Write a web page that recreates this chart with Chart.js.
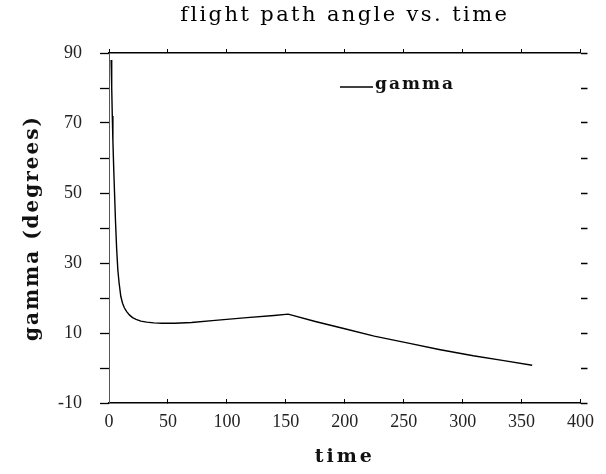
<!DOCTYPE html>
<html>
<head>
<meta charset="utf-8">
<script src="https://cdn.jsdelivr.net/npm/chart.js@4/dist/chart.umd.min.js"></script>
<style>
  html, body { margin: 0; padding: 0; background: #fff; }
  #wrap { width: 606px; height: 474px; position: relative; }
</style>
</head>
<body>
<div id="wrap"><canvas id="c" width="606" height="474"></canvas></div>
<script>
// ---- data ----
const chartTitle = 'flight path angle vs. time';
const xTitle = 'time';
const yTitle = 'gamma (degrees)';
const seriesName = 'gamma';
const time  = [1.8, 2.3, 2.8, 3.3, 4, 4.7, 5.5, 6.5, 7.5, 8.5, 10, 11.5, 13, 15, 17.5, 20, 23, 27, 32, 38, 45, 56, 70, 90, 117, 140, 152, 175, 200, 225, 254, 280, 309, 335, 359];
const gamma = [88, 80, 72, 65, 57, 50, 42, 34, 28, 24.5, 20.5, 18.5, 17.2, 16.1, 15.1, 14.4, 13.9, 13.4, 13.1, 12.9, 12.8, 12.8, 13.0, 13.6, 14.4, 15.0, 15.4, 13.3, 11.2, 9.1, 7.1, 5.3, 3.5, 2.1, 0.8];
const xTicks = [0, 50, 100, 150, 200, 250, 300, 350, 400];
const yTickLabels = [-10, 10, 30, 50, 70, 90];

const points = time.map((t, i) => ({ x: t, y: gamma[i] }));

function spaced(obj, method, spacing) {
  if (!obj || obj['__sp_' + method]) return;
  const orig = obj[method];
  obj[method] = function (...a) {
    const ctx = this.ctx;
    ctx.save();
    ctx.letterSpacing = spacing;
    const r = orig.apply(this, a);
    ctx.restore();
    return r;
  };
  obj['__sp_' + method] = true;
}

const spacingPlugin = {
  id: 'spacing',
  beforeDraw(chart) {
    spaced(chart.scales.x, 'drawTitle', '3px');
    spaced(chart.scales.x2, 'drawTitle', '2.4px');
    spaced(chart.scales.y, 'drawTitle', '2px');
  }
};

const legendPlugin = {
  id: 'inlineLegend',
  afterDraw(chart) {
    const ctx = chart.ctx;
    const ds = chart.data.datasets[0];
    const a = chart.chartArea;
    const x0 = a.left + 231, y0 = a.top + 34;
    ctx.save();
    ctx.strokeStyle = ds.borderColor;
    ctx.lineWidth = 1.5;
    ctx.beginPath();
    ctx.moveTo(x0, y0);
    ctx.lineTo(x0 + 33, y0);
    ctx.stroke();
    ctx.fillStyle = '#111';
    ctx.font = 'bold 17px "DejaVu Serif"';
    ctx.letterSpacing = '2px';
    ctx.textBaseline = 'middle';
    ctx.textAlign = 'left';
    ctx.fillText(ds.label, x0 + 35, y0 - 2);
    ctx.restore();
  }
};

new Chart(document.getElementById('c'), {
  type: 'line',
  data: {
    datasets: [{
      label: seriesName,
      data: points,
      borderColor: '#000',
      borderWidth: 1.4,
      pointRadius: 0,
      fill: false,
      tension: 0
    }]
  },
  plugins: [spacingPlugin, legendPlugin],
  options: {
    responsive: false,
    animation: false,
    layout: { padding: { left: 0, right: 9, top: 0, bottom: 0 } },
    plugins: {
      legend: { display: false },
      title: { display: false },
      tooltip: { enabled: false }
    },
    scales: {
      x: {
        type: 'linear', position: 'bottom', min: 0, max: 400,
        afterBuildTicks: s => { s.ticks = xTicks.map(v => ({ value: v })); },
        afterFit: s => { s.height = 71; },
        border: { display: true, color: '#000', width: 1.5 },
        grid: { drawOnChartArea: false, tickLength: -4, color: '#000', tickWidth: 1 },
        ticks: { padding: 12, color: '#222', font: { family: 'Liberation Serif', size: 18 } },
        title: { display: true, text: xTitle, color: '#111', padding: { top: 5.6, bottom: 5.6 },
                 font: { family: 'DejaVu Serif', size: 19, weight: 'bold', lineHeight: 1.2 } }
      },
      x2: {
        type: 'linear', position: 'top', min: 0, max: 400,
        afterBuildTicks: s => { s.ticks = xTicks.map(v => ({ value: v })); },
        afterFit: s => { s.height = 53; },
        border: { display: true, color: '#000', width: 1.5 },
        grid: { drawOnChartArea: false, tickLength: 4, color: '#000' },
        ticks: { display: false },
        title: { display: true, text: chartTitle, color: '#000', padding: { top: 2.5, bottom: 2.5 },
                 font: { family: 'DejaVu Serif', size: 21, weight: 'normal', lineHeight: 1.2 } }
      },
      y: {
        type: 'linear', position: 'left', min: -10, max: 90,
        afterBuildTicks: s => { const t = []; for (let v = -10; v <= 90; v += 10) t.push({ value: v }); s.ticks = t; },
        afterFit: s => { s.width = 109; },
        border: { display: true, color: '#555', width: 1 },
        grid: { drawOnChartArea: false, tickLength: 9, color: '#000', tickWidth: 1.3 },
        ticks: {
          padding: 18, color: '#222', font: { family: 'Liberation Serif', size: 18 },
          callback: v => (yTickLabels.includes(v) ? String(v) : '')
        },
        title: { display: true, text: yTitle, color: '#111', padding: { top: 20.6, bottom: 20.6 },
                 font: { family: 'DejaVu Serif', size: 20, weight: 'bold', lineHeight: 1.2 } }
      },
      y2: {
        type: 'linear', position: 'right', min: -10, max: 90,
        afterBuildTicks: s => { const t = []; for (let v = -10; v <= 90; v += 10) t.push({ value: v }); s.ticks = t; },
        afterFit: s => { s.width = 8; },
        border: { display: false },
        grid: { drawOnChartArea: false, tickLength: 7, color: '#000', tickWidth: 1.5 },
        ticks: { display: false }
      }
    }
  }
});
</script>
</body>
</html>
